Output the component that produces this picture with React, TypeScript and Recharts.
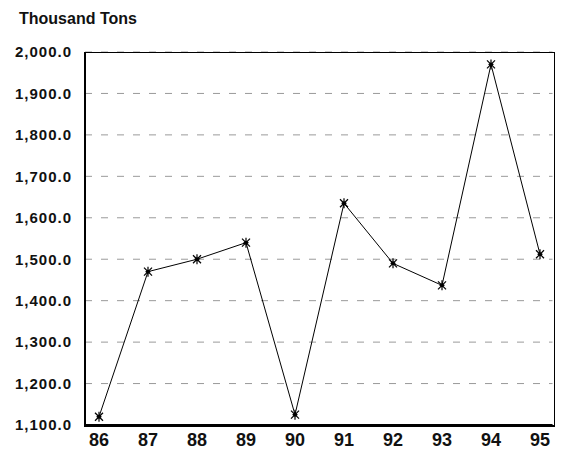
import React from 'react';
import { LineChart, Line, XAxis, YAxis, CartesianGrid } from 'recharts';

const years = ['86', '87', '88', '89', '90', '91', '92', '93', '94', '95'];
const tons = [1120, 1470, 1500, 1540, 1125, 1635, 1490, 1437, 1970, 1512];
const yTicks = [1100, 1200, 1300, 1400, 1500, 1600, 1700, 1800, 1900, 2000];

const data = years.map((y, i) => ({ year: y, tons: tons[i] }));

const fmt = (v: number) =>
  v.toLocaleString('en-US', { minimumFractionDigits: 1, maximumFractionDigits: 1 });

const Star = (props: any) => {
  const { cx, cy } = props;
  if (cx == null || cy == null) return null;
  const r = 5;
  const d = 4;
  return (
    <g stroke="#000" strokeWidth={1.2}>
      <line x1={cx} y1={cy - r} x2={cx} y2={cy + r} />
      <line x1={cx - d} y1={cy - d} x2={cx + d} y2={cy + d} />
      <line x1={cx - d} y1={cy + d} x2={cx + d} y2={cy - d} />
      <line x1={cx - 2.5} y1={cy} x2={cx + 2.5} y2={cy} />
      <circle cx={cx} cy={cy} r={2} fill="#000" stroke="none" />
    </g>
  );
};

const font = '"Liberation Sans", Arial, sans-serif';

export default function App() {
  return (
    <div style={{ position: 'absolute', left: 0, top: 0, width: 563, height: 451, background: '#fff' }}>
      <div
        style={{
          position: 'absolute',
          left: 19,
          top: 10,
          fontFamily: font,
          fontWeight: 'bold',
          fontSize: 16,
          color: '#111',
          lineHeight: '18px',
        }}
      >
        Thousand Tons
      </div>
      <LineChart
        width={563}
        height={451}
        data={data}
        margin={{ top: 52, right: 10.5, left: 0, bottom: 0 }}
      >
        <CartesianGrid
          horizontal
          vertical={false}
          stroke="#9a9a9a"
          strokeDasharray="7 9"
        />
        <XAxis
          dataKey="year"
          height={26}
          padding={{ left: 14, right: 12.5 }}
          tickLine={false}
          stroke="#000"
          axisLine={{ stroke: '#000', strokeWidth: 2 }}
          interval={0}
          tick={{ fill: '#111', fontFamily: font, fontWeight: 'bold', fontSize: 18 }}
        />
        <XAxis
          xAxisId="top"
          dataKey="year"
          orientation="top"
          height={0}
          tick={false}
          tickLine={false}
          stroke="#000"
          padding={{ left: 14, right: 12.5 }}
          axisLine={{ stroke: '#000', strokeWidth: 1.5 }}
        />
        <YAxis
          width={85}
          domain={[1100, 2000]}
          ticks={yTicks}
          interval={0}
          tickFormatter={fmt}
          tickLine={false}
          tickMargin={7}
          stroke="#000"
          axisLine={{ stroke: '#000', strokeWidth: 2 }}
          tick={{ fill: '#111', fontFamily: font, fontWeight: 'bold', fontSize: 15, letterSpacing: 1 }}
        />
        <YAxis
          yAxisId="right"
          orientation="right"
          width={0}
          domain={[1100, 2000]}
          tick={false}
          tickLine={false}
          stroke="#000"
          axisLine={{ stroke: '#000', strokeWidth: 1.5 }}
        />
        <Line
          dataKey="tons"
          stroke="#000"
          strokeWidth={1}
          dot={<Star />}
          activeDot={false}
          isAnimationActive={false}
        />
      </LineChart>
      <div
        style={{
          position: 'absolute',
          left: 84,
          top: 51.5,
          width: 467.5,
          height: 372.5,
          borderLeft: '2px solid #000',
          borderBottom: '2px solid #000',
          borderTop: '1.5px solid #000',
          borderRight: '1.5px solid #000',
          boxSizing: 'content-box',
          pointerEvents: 'none',
        }}
      />
    </div>
  );
}
